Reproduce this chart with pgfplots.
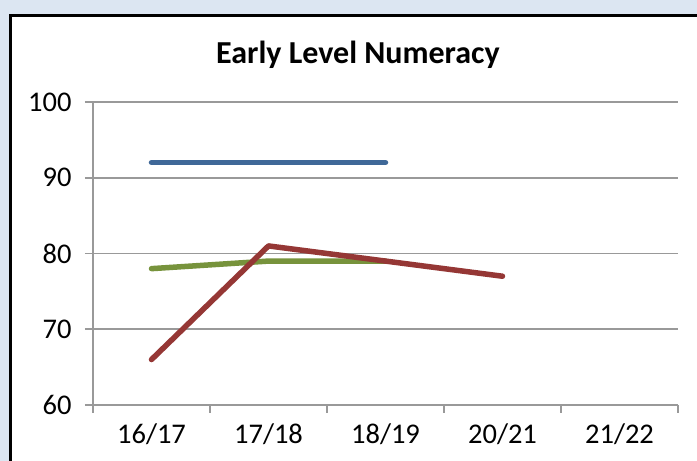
\documentclass[border=0pt]{standalone}
\usepackage{pgfplots}
\pgfplotsset{compat=1.18}
\usepackage{fontspec}
\setmainfont{Carlito}
\definecolor{bg}{HTML}{DCE6F2}
\definecolor{cblue}{HTML}{3F6898}
\definecolor{cgreen}{HTML}{77933C}
\definecolor{cred}{HTML}{953735}
\begin{document}
\begin{tikzpicture}[x=1pt,y=1pt]
\path[use as bounding box] (0,0) rectangle (697,461);
\clip (0,0) rectangle (697,461);
\fill[bg] (0,0) rectangle (697,461);
\filldraw[fill=white, draw=black, line width=3pt] (10.5,-20) rectangle (720,445.5);
\node[font=\bfseries\fontsize{32}{36}\selectfont] at (358,406) {Early Level Numeracy};
\begin{axis}[
  at={(93pt,56pt)}, anchor=south west,
  width=585pt, height=303pt, scale only axis,
  xmin=0, xmax=5, ymin=60, ymax=100,
  ytick={60,70,80,90,100},
  xtick={0.5,1.5,2.5,3.5,4.5},
  xticklabels={16/17,17/18,18/19,20/21,21/22},
  minor xtick={0,1,2,3,4,5},
  axis x line*=bottom, axis y line*=left,
  axis line style={-, draw=black!40, line width=1.6pt},
  ymajorgrids, major grid style={draw=black!40, line width=1.6pt},
  tick align=outside,
  major tick length=8pt, minor tick length=8pt,
  every tick/.style={draw=black!40, line width=1.6pt},
  major x tick style={draw=none},
  tick label style={font=\fontsize{28.5}{32}\selectfont},
  yticklabel style={xshift=-10pt},
  xticklabel style={yshift=-7pt},
  /pgf/number format/assume math mode=true,
  clip=false,
  every axis plot/.append style={line width=5.5pt, line cap=round, line join=round},
]
\addplot[cblue] coordinates {(0.5,92)(1.5,92)(2.5,92)};
\addplot[cgreen] coordinates {(0.5,78)(1.5,79)(2.5,79)};
\addplot[cred] coordinates {(0.5,66)(1.5,81)(2.5,79)(3.5,77)};
\end{axis}
\end{tikzpicture}
\end{document}
